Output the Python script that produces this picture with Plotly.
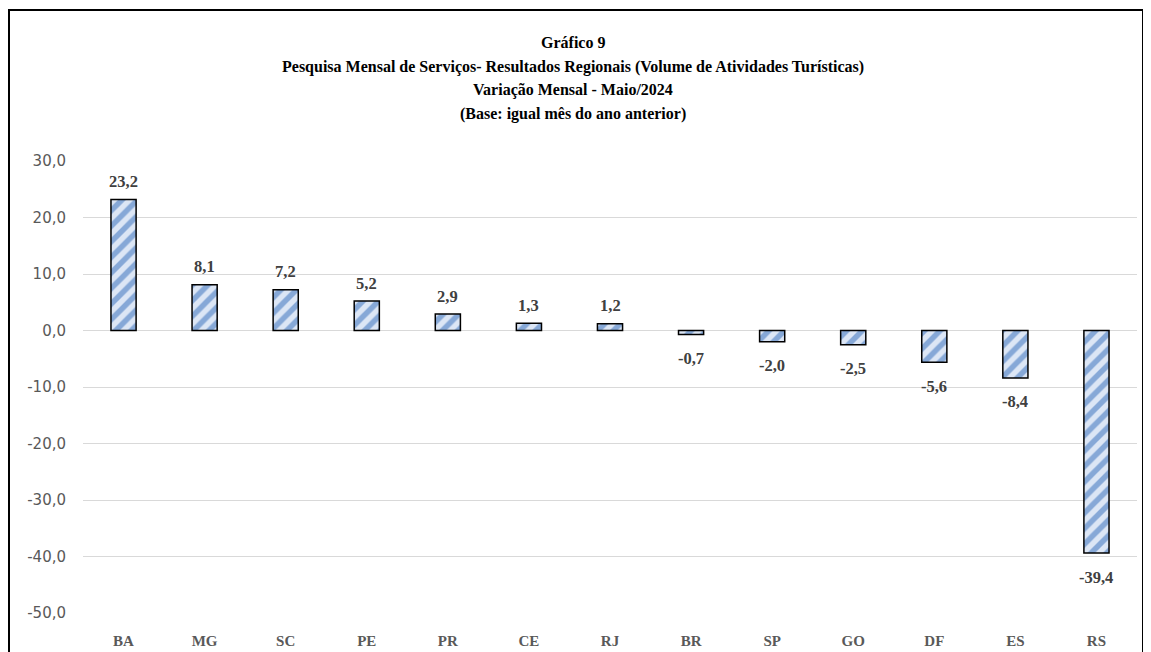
import plotly.graph_objects as go

categories = ["BA", "MG", "SC", "PE", "PR", "CE", "RJ", "BR", "SP", "GO", "DF", "ES", "RS"]
values = [23.2, 8.1, 7.2, 5.2, 2.9, 1.3, 1.2, -0.7, -2.0, -2.5, -5.6, -8.4, -39.4]
y_ticks = [30, 20, 10, 0, -10, -20, -30, -40, -50]
y_tick_labels = ["30,0", "20,0", "10,0", "0,0", "-10,0", "-20,0", "-30,0", "-40,0", "-50,0"]
labels = [f"{v:.1f}".replace(".", ",") for v in values]

title_lines = [
    "Gráfico 9",
    "Pesquisa Mensal de Serviços- Resultados Regionais (Volume de Atividades Turísticas)",
    "Variação Mensal - Maio/2024",
    "(Base: igual mês do ano anterior)",
]

# page body has an 8px margin, so the figure is drawn offset by 8px
OFF = 8
W, H = 1151 - OFF, 652 - OFF
ml, mr, mt, mb = 83 - OFF, 14, 161 - OFF, 39

fig = go.Figure()
fig.add_trace(go.Bar(
    x=categories,
    y=values,
    width=0.31,
    marker=dict(
        color="#dce6f5",
        line=dict(color="#000000", width=1.5),
        pattern=dict(shape="/", fgcolor="#2f69ba", bgcolor="#dce6f5", size=11, solidity=0.5),
    ),
    showlegend=False,
    hoverinfo="x+y",
))

for cat, v, lab in zip(categories, values, labels):
    fig.add_annotation(
        x=cat, y=v, xref="x", yref="y",
        text=f"<b>{lab}</b>", showarrow=False,
        yanchor="middle", xanchor="center",
        yshift=18 if v >= 0 else -24,
        font=dict(family="Liberation Serif", size=16.5, color="#404040"),
    )

pw, ph = W - ml - mr, H - mt - mb
def px_to_paper_x(px):
    return (px - OFF - ml) / pw
def px_to_paper_y(py):
    return (H - mb - (py - OFF)) / ph

title_y_px = [43, 67, 90, 114]
for line, ypx in zip(title_lines, title_y_px):
    fig.add_annotation(
        x=px_to_paper_x(573), y=px_to_paper_y(ypx), xref="paper", yref="paper",
        text=f"<b>{line}</b>", showarrow=False,
        xanchor="center", yanchor="middle",
        font=dict(family="Liberation Serif", size=16, color="#000000"),
    )

fig.update_layout(
    width=W, height=H,
    margin=dict(l=ml, r=mr, t=mt, b=mb, autoexpand=False),
    paper_bgcolor="white",
    plot_bgcolor="white",
    bargap=0.69,
    xaxis=dict(
        automargin=False,
        showgrid=False, showline=False, zeroline=False,
        ticks="outside", ticklen=14, tickcolor="rgba(0,0,0,0)",
        tickfont=dict(family="Liberation Serif", size=15, color="#595959", weight="bold"),
    ),
    yaxis=dict(
        automargin=False,
        range=[-50, 30],
        tickvals=y_ticks, ticktext=y_tick_labels,
        showgrid=True, gridcolor="#d9d9d9", gridwidth=1,
        zeroline=True, zerolinecolor="#d9d9d9", zerolinewidth=1,
        showline=False,
        tickfont=dict(family="DejaVu Sans", size=15, color="#595959"),
        ticks="outside", ticklen=13, tickcolor="rgba(0,0,0,0)",
    ),
)

fig.add_shape(
    type="rect", xref="paper", yref="paper",
    x0=px_to_paper_x(9), x1=px_to_paper_x(1143),
    y0=px_to_paper_y(662), y1=px_to_paper_y(10),
    line=dict(color="#000000", width=2), fillcolor="rgba(0,0,0,0)", layer="above",
)

fig.write_html("out.html")
